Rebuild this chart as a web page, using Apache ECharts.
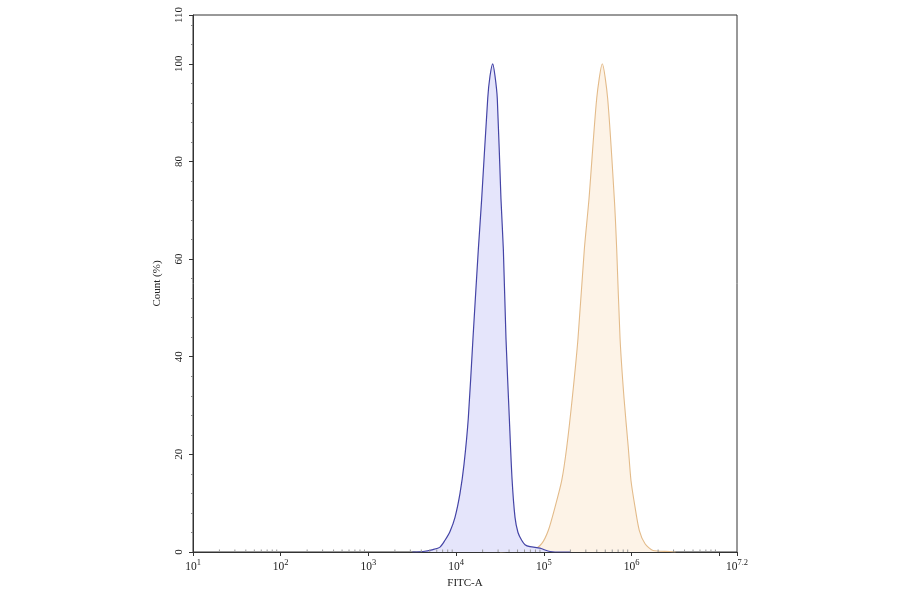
<!DOCTYPE html>
<html>
<head>
<meta charset="utf-8">
<script src="https://cdn.jsdelivr.net/npm/echarts@6/dist/echarts.min.js"></script>
<style>
html, body { margin: 0; padding: 0; background: #fff; }
#chart { width: 900px; height: 594px; }
</style>
</head>
<body>
<div id="chart"></div>
<script>
// x values are log10(FITC-A), y values are Count (%)
var blueX = [3.50, 3.62, 3.735, 3.815, 3.872, 3.929, 3.986, 4.043, 4.089, 4.138, 4.191, 4.252, 4.290, 4.359, 4.385, 4.416, 4.442, 4.468, 4.510, 4.537, 4.567, 4.605, 4.636, 4.670, 4.704, 4.746, 4.784, 4.841, 4.955, 5.012, 5.069, 5.126, 5.30];
var blueY = [0, 0.1, 0.5, 1.0, 2.4, 4.2, 7.1, 12, 18, 27.5, 43.8, 62, 72.3, 92.9, 97.5, 100, 97.5, 92.9, 72.3, 62, 43.8, 27.5, 15, 7.1, 4.0, 2.4, 1.5, 1.1, 0.8, 0.4, 0.1, 0, 0];

var orangeX = [4.50, 4.727, 4.875, 4.974, 5.049, 5.126, 5.202, 5.259, 5.323, 5.388, 5.460, 5.513, 5.601, 5.665, 5.726, 5.802, 5.829, 5.867, 5.912, 5.961, 5.992, 6.038, 6.087, 6.152, 6.243, 6.436, 6.50];
var orangeY = [0, 0.3, 0.4, 1.7, 4.4, 9.2, 14.6, 21.4, 31.6, 43.8, 62, 72.3, 92.9, 100, 92.9, 72.3, 62, 43.8, 31.6, 21.4, 14.6, 9.2, 4.4, 1.7, 0.3, 0.1, 0];

var yTicks = [0, 20, 40, 60, 80, 100, 110];
var decades = [1, 2, 3, 4, 5, 6, 7];

function pairs(xs, ys) {
    var out = [];
    for (var i = 0; i < xs.length; i++) out.push([xs[i], ys[i]]);
    return out;
}

// log-spaced minor ticks (2..9 in each decade)
var minorX = [];
decades.forEach(function (d) {
    for (var k = 2; k <= 9; k++) {
        var e = d + Math.log10(k);
        if (e < 7.2) minorX.push([e, 0]);
    }
});

var serif = '"Liberation Serif", "DejaVu Serif", serif';

var option = {
    backgroundColor: '#fff',
    animation: false,
    grid: {
        left: 193, right: 163, top: 15, bottom: 39,
        show: true, borderColor: '#333', borderWidth: 1, backgroundColor: 'transparent'
    },
    xAxis: {
        type: 'value',
        min: 1, max: 7.2, interval: 1,
        name: 'FITC-A',
        nameLocation: 'middle',
        nameGap: 26,
        nameTextStyle: { fontFamily: serif, fontSize: 11, color: '#222' },
        axisLine: { lineStyle: { color: '#333', width: 1 } },
        axisTick: { length: 4, lineStyle: { color: '#333' } },
        splitLine: { show: false },
        axisLabel: {
            margin: 6,
            showMaxLabel: true,
            fontFamily: serif,
            formatter: function (v) {
                var r = Math.round(v * 10) / 10;
                if (r === 7) return '';
                return '{b|10}{s|' + r + '}';
            },
            rich: {
                b: { fontFamily: serif, fontSize: 11.5, color: '#222', verticalAlign: 'bottom' },
                s: { fontFamily: serif, fontSize: 8.5, color: '#222', verticalAlign: 'top', padding: [0, 0, 6, 0] }
            }
        }
    },
    yAxis: {
        type: 'value',
        min: 0, max: 110, interval: 20,
        name: 'Count (%)',
        nameLocation: 'middle',
        nameGap: 30,
        nameRotate: 90,
        nameTextStyle: { fontFamily: serif, fontSize: 11, color: '#222' },
        axisLine: { show: true, lineStyle: { color: '#333', width: 1 } },
        axisTick: { show: true, length: 4, lineStyle: { color: '#333' } },
        minorTick: { show: true, splitNumber: 5, length: 2, lineStyle: { color: '#888' } },
        splitLine: { show: false },
        axisLabel: {
            rotate: 90,
            margin: 8,
            fontFamily: serif,
            fontSize: 11,
            color: '#222',
            showMaxLabel: true
        }
    },
    series: [
        {
            name: 'orange',
            type: 'line',
            data: pairs(orangeX, orangeY),
            smooth: 0.25,
            symbol: 'none',
            lineStyle: { color: '#e3bb8a', width: 1.1 },
            areaStyle: { color: '#fdf3e7', opacity: 1 },
            z: 2
        },
        {
            name: 'blue',
            type: 'line',
            data: pairs(blueX, blueY),
            smooth: 0.25,
            symbol: 'none',
            lineStyle: { color: '#4444a6', width: 1.2 },
            areaStyle: { color: '#e5e5fb', opacity: 1 },
            z: 3
        },
        {
            name: 'minorTicks',
            type: 'custom',
            silent: true,
            clip: false,
            z: 4,
            data: minorX,
            renderItem: function (params, api) {
                var p = api.coord([api.value(0), 0]);
                return {
                    type: 'line',
                    shape: { x1: p[0], y1: p[1], x2: p[0], y2: p[1] - 2.5 },
                    style: { stroke: '#999', lineWidth: 1 }
                };
            }
        }
    ]
};

var chart = echarts.init(document.getElementById('chart'));
chart.setOption(option);
</script>
</body>
</html>
